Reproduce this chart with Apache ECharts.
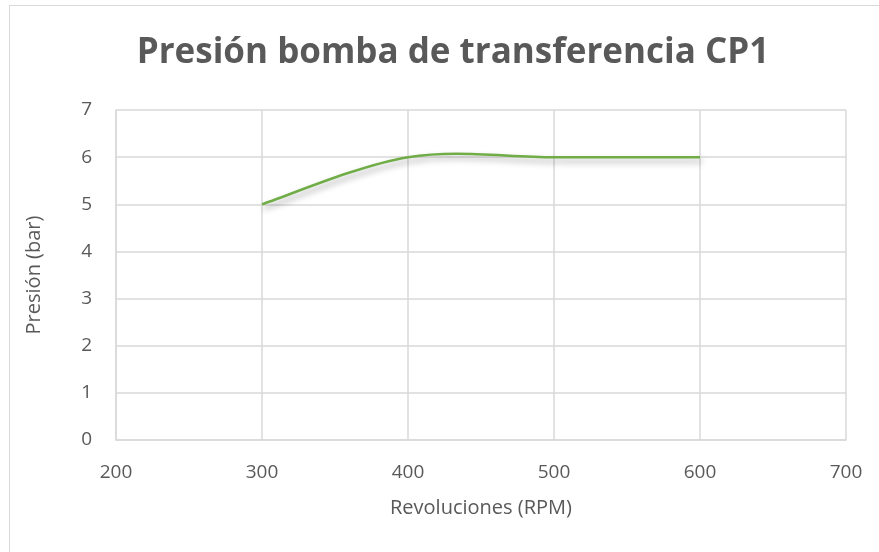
<!DOCTYPE html>
<html>
<head>
<meta charset="utf-8">
<script src="https://cdn.jsdelivr.net/npm/echarts@6/dist/echarts.min.js"></script>
<style>
	html,body{margin:0;padding:0;overflow:hidden;background:#fff;}
	#chart{width:879px;height:552px;}
	#frame{position:absolute;left:9px;top:5px;width:900px;height:600px;border:1px solid #d9d9d9;pointer-events:none;}
</style>
</head>
<body>
<div id="chart"></div>
<div id="frame"></div>
<script>
	// datos
	var rpm = [300, 400, 500, 600];
	var presion = [5, 6, 6, 6];
	var xTicks = [200, 300, 400, 500, 600, 700];
	var yTicks = [0, 1, 2, 3, 4, 5, 6, 7];

	var textColor = '#595959';
	var gridColor = '#d9d9d9';
	var font = '"Open Sans", sans-serif';

	// curva suavizada estilo Excel: cada tramo es una Bézier (puntos de control a 1/6 de la tangente)
	function renderSegment(params, api){
		var i = params.dataIndex;
		if (i >= rpm.length - 1) return null;
		var p = function(k){ k = Math.max(0, Math.min(rpm.length - 1, k)); return [rpm[k], presion[k]]; };
		var p0 = p(i - 1), p1 = p(i), p2 = p(i + 1), p3 = p(i + 2);
		var c1 = [p1[0] + (p2[0] - p0[0]) / 6, p1[1] + (p2[1] - p0[1]) / 6];
		var c2 = [p2[0] - (p3[0] - p1[0]) / 6, p2[1] - (p3[1] - p1[1]) / 6];
		var a = api.coord(p1), b = api.coord(p2), ca = api.coord(c1), cb = api.coord(c2);
		return {
			type: 'bezierCurve',
			shape: {x1: a[0], y1: a[1], x2: b[0], y2: b[1], cpx1: ca[0], cpy1: ca[1], cpx2: cb[0], cpy2: cb[1]},
			style: {
				fill: null,
				stroke: '#70ad47',
				lineWidth: 2.5,
				shadowColor: 'rgba(0,0,0,0.35)',
				shadowBlur: 6,
				shadowOffsetY: 4,
				shadowOffsetX: 2
			}
		};
	}

	var myChart = echarts.init(document.getElementById('chart'));
	var option = {
		animation: false,
		title: {
			text: 'Presión bomba de transferencia CP1',
			left: 448,
			textAlign: 'center',
			top: 31,
			textStyle: {color: textColor, fontSize: 35, fontWeight: 'bold', fontFamily: font}
		},
		grid: {left: 116, right: 33, top: 110, bottom: 112},
		xAxis: {
			type: 'value',
			min: xTicks[0],
			max: xTicks[xTicks.length - 1],
			interval: 100,
			name: 'Revoluciones (RPM)',
			nameLocation: 'middle',
			nameGap: 58,
			nameTextStyle: {color: textColor, fontSize: 20, fontFamily: font},
			axisLine: {show: true, lineStyle: {color: gridColor, width: 1.5}},
			axisTick: {show: false},
			axisLabel: {color: textColor, fontSize: 19, fontFamily: font, margin: 23},
			splitLine: {show: true, lineStyle: {color: gridColor, width: 1.5}}
		},
		yAxis: {
			type: 'value',
			min: yTicks[0],
			max: yTicks[yTicks.length - 1],
			interval: 1,
			name: 'Presión (bar)',
			nameLocation: 'middle',
			nameGap: 72,
			nameTextStyle: {color: textColor, fontSize: 20, fontFamily: font},
			axisLine: {show: true, lineStyle: {color: gridColor, width: 1.5}},
			axisTick: {show: false},
			axisLabel: {color: textColor, fontSize: 19, fontFamily: font, margin: 24},
			splitLine: {show: true, lineStyle: {color: gridColor, width: 1.5}}
		},
		series: [{
			type: 'custom',
			renderItem: renderSegment,
			data: rpm.map(function(x, i){ return [x, presion[i]]; }),
			encode: {x: 0, y: 1}
		}]
	};
	myChart.setOption(option);
</script>
</body>
</html>
